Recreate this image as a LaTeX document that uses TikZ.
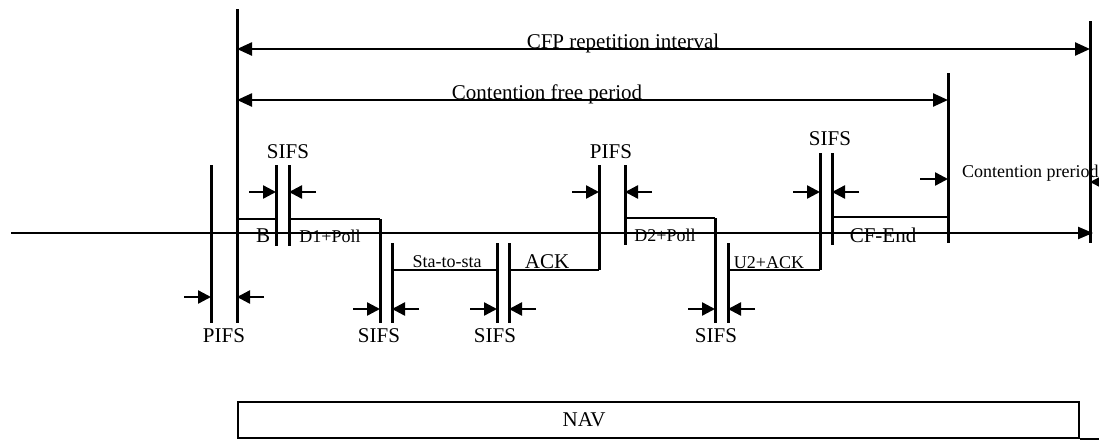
\documentclass[tikz,border=0pt]{standalone}
\usepackage{fontspec}
\setmainfont{Liberation Serif}
\usetikzlibrary{arrows.meta, calc}
\tikzset{
  % --- time axis and frame boundaries ---
  axisline/.style={line width=2.2pt, -{Triangle[length=15pt, width=12pt]}},
  bound/.style={line width=3pt},
  frametop/.style={line width=2.4pt},
  % --- labels ---
  biglabel/.style={font=\fontsize{21}{23}\selectfont, inner sep=0pt, anchor=base},
  smalllabel/.style={font=\fontsize{18}{20}\selectfont, inner sep=0pt, anchor=base},
  % --- interval arrows ---
  spanarrow/.style={line width=2.4pt,
    {Triangle[length=15pt, width=13pt]}-{Triangle[length=15pt, width=13pt]}},
  gaparrow/.style={line width=2.4pt, -{Triangle[length=13pt, width=13pt]}},
  navbox/.style={draw, line width=2pt, minimum width=841pt, minimum height=36pt,
    inner sep=0pt},
}

\begin{document}
\begin{tikzpicture}[x=1pt, y=-1pt]
    \useasboundingbox (0,0) rectangle (1099,439);

    % ---- Time axis ----
    \coordinate (ax0) at (11,233);
    \coordinate (ax1) at (1093,233);
    \draw[axisline] (ax0) -- (ax1);

    % ---- Frame boundaries (name/x/top/bottom) ----
    \foreach \n/\x/\t/\b in {pifs/211/165/323, cfps/237/9/323, sa/276/165/246,
        sb/289/165/246, d1r/380/219/323, stl/392/243/323, str/497/243/323,
        akl/509/243/323, akr/599/165/270, d2l/625/165/245, d2r/715/218/323,
        u2l/728/243/323, u2r/820/153/270, cfl/832/153/245, cfe/948/73/243,
        cfpe/1090/21/243}{
      \coordinate (\n-t) at (\x,\t);
      \coordinate (\n-b) at (\x,\b);
      \draw[bound] (\n-t) -- (\n-b);
    }

    % ---- Frames ----
    \draw[frametop] (cfps-t |- 0,219) -- (sa-t |- 0,219);
    \draw[frametop] (sb-t |- 0,219) -- (d1r-t);
    \draw[frametop] (stl-t |- 0,270) -- (str-t |- 0,270);
    \draw[frametop] (akl-t |- 0,270) -- (akr-b);
    \draw[frametop] (d2l-t |- 0,218) -- (d2r-t);
    \draw[frametop] (u2l-t |- 0,270) -- (u2r-b);
    \draw[frametop] (cfl-t |- 0,217) -- (cfe-t |- 0,217);

    \node[biglabel] (fb) at (263,242) {B};
    \node[smalllabel] (fd1) at (330,242) {D1+Poll};
    \node[smalllabel] (fsta) at (447,267) {Sta-to-sta};
    \node[biglabel] (fack) at (547,268) {ACK};
    \node[smalllabel] (fd2) at (665,241) {D2+Poll};
    \node[smalllabel] (fu2) at (769,268) {U2+ACK};
    \node[biglabel] (fcf) at (883,242) {CF-End};

    % ---- Periods ----
    \draw[spanarrow] (cfps-t |- 0,49) -- (cfpe-t |- 0,49);
    \node[biglabel] (lcfp) at (623,48) {CFP repetition interval};
    \draw[spanarrow] (cfps-t |- 0,100) -- (cfe-t |- 0,100);
    \node[biglabel] (lcf) at (547,99) {Contention free period};

    % ---- Interframe spaces (left/right/y/label x/label y/text/name) ----
    \foreach \l/\r/\y/\lx/\ly/\txt/\n in {pifs/cfps/297/224/342/PIFS/g1,
        sa/sb/192/288/158/SIFS/g2, d1r/stl/309/379/342/SIFS/g3,
        str/akl/309/495/342/SIFS/g4, akr/d2l/192/611/158/PIFS/g5,
        d2r/u2l/309/716/342/SIFS/g6, u2r/cfl/192/830/145/SIFS/g7}{
      \coordinate (\n-l) at (\l-t |- 0,\y);
      \coordinate (\n-r) at (\r-t |- 0,\y);
      \draw[gaparrow] ($(\n-l)+(-27,0)$) -- (\n-l);
      \draw[gaparrow] ($(\n-r)+(27,0)$) -- (\n-r);
      \node[biglabel] (\n) at (\lx,\ly) {\txt};
    }

    % ---- Contention period ----
    \coordinate (cp-l) at (cfe-t |- 0,179);
    \coordinate (cp-r) at (cfpe-t |- 0,182);
    \draw[gaparrow] ($(cp-l)+(-28,0)$) -- (cp-l);
    \draw[gaparrow] ($(cp-r)+(28,0)$) -- (cp-r);
    \node[smalllabel, anchor=base west] (lcp) at (962,177) {Contention preriod};

    % ---- NAV ----
    \node[navbox, anchor=north west] (nav) at (237,401) {};
    \node[biglabel] (lnav) at (584,426) {NAV};
    \coordinate (navend) at (1099,437);
    \draw[line width=2pt] (nav.south east) -- (navend |- nav.south east);
  \end{tikzpicture}
\end{document}
